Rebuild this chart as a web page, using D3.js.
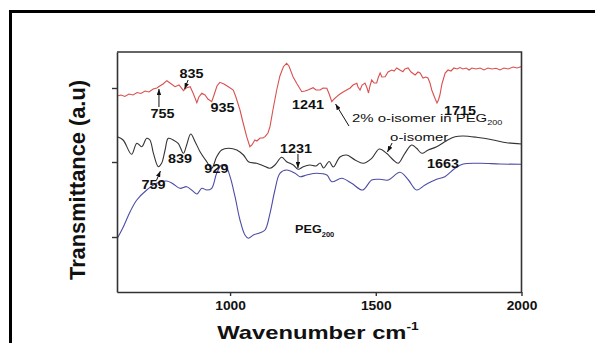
<!DOCTYPE html>
<html><head><meta charset="utf-8">
<script src="https://cdn.jsdelivr.net/npm/d3@7"></script>
<style>
html,body{margin:0;padding:0;background:#fff;}
svg{display:block;font-family:"Liberation Sans",Arial,Helvetica,sans-serif;}
</style></head>
<body>
<script>
// ---------- data (wavenumber cm^-1, transmittance a.u.) ----------
const xTicks = [1000, 1500, 2000];
const yTicks = [55, 130, 204];

const mixWn = [612,626,639,653,667,681,694,708,722,736,749,756,770,783,794,811,825,840,849,863,873,886,893,903,914,924,937,945,955,965,979,994,1011,1020,1034,1044,1057,1068,1075,1085,1092,1103,1113,1120,1130,1137,1147,1160,1171,1183,1194,1202,1216,1230,1246,1257,1267,1285,1295,1309,1319,1332,1340,1349,1357,1366,1377,1388,1400,1412,1422,1435,1439,1446,1453,1463,1470,1475,1480,1486,1494,1503,1508,1515,1521,1532,1542,1555,1563,1572,1583,1593,1600,1611,1621,1635,1645,1652,1662,1672,1679,1686,1692,1703,1710,1715,1720,1727,1738,1748,1758,1768,1779,1789,1799,1810,1820,1830,1844,1858,1871,1885,1899,1913,1926,1940,1954,1971,1985,2000];
const mixT = [196,197,195.5,198,197,199.5,198.5,201,200,203,204,205.5,208,211.3,209,205.3,207,201.3,204,205.3,199,189.3,195,198.7,197,193,190.3,197,206,209.7,208,205.3,202,195,182,170,155.3,145.3,147,152,151,154,154,155.3,159,165.3,182,202,216,225.3,228.7,226,215.3,208,200.3,201,202,204.3,202,202,204,203.7,198,190.3,193,195.3,198,200,202,204,207,208.7,205,202,207,209,204,199,206,212,209,209,214,219,215,215.3,220,222,221,224,222,220.3,223,224,220,217,220,219,214,215,214,209,202,193.7,189,192,197,208,219,222,221,224,223,224.5,223,224,222,224,223,224,222,224,223,223.7,222,224,223,225,224,225.5];

const isoWn = [613,633,662,680,697,714,725,737,754,765,777,788,805,822,840,851,865,880,897,920,937,954,971,994,1023,1046,1063,1091,1114,1137,1154,1177,1194,1217,1234,1251,1274,1295,1309,1321,1340,1354,1377,1400,1429,1457,1486,1512,1537,1560,1577,1600,1623,1640,1658,1680,1709,1743,1772,1800,1846,1903,1949,2000];
const isoT = [155.3,152,137.7,148.7,145.3,153.7,152,138.7,125.3,128.7,142,153.7,152,148.7,138.7,147,158,150.3,140.3,130.3,123.7,135.3,142,143.7,142,137,130.3,128.7,126.3,123.7,127,134.7,130.3,127,122.7,125.3,127,126,129,124,130.5,125,135,137,132,128.7,133.7,143,138.7,132,128.7,138.7,147,143.7,138.7,142,145.3,151.3,155.3,156,154.7,152,149.3,148];

const pegWn = [613,634,657,680,714,748,783,805,828,851,868,886,903,920,937,954,971,986,1000,1017,1034,1051,1063,1080,1103,1120,1137,1154,1171,1194,1223,1240,1263,1297,1332,1349,1383,1417,1455,1486,1514,1543,1583,1612,1640,1669,1709,1737,1772,1800,1858,1926,2000];
const pegT = [53.7,65.3,80.3,92,102,108.7,111,108,103.7,105.3,102,98,103.7,102,103.7,118.7,127,125.3,115.3,95.3,72,57,53.7,57,59.3,62,78.7,102,118.7,122,118.7,115.3,117,118.7,117,110.3,113.7,108.7,102,112,112.7,112,119.7,112,102,107,112.7,115.3,123.7,128,128.7,128,127.7];

// peak labels: text, wavenumber, transmittance of text baseline centre
const peakText = ["755","835","935","1241","1715","839","759","929","1231","1663"];
const peakWn   = [768, 868, 974, 1267, 1789, 828, 737, 953, 1226, 1731];
const peakT    = [174, 214, 180, 183, 177.5, 129.5, 103, 119.5, 139.5, 124];

// arrows: from (wn,T) to (wn,T)
const arrowFromWn = [756, 856, 1408, 1556, 1233, 748];
const arrowFromT  = [185, 212, 166, 149, 138, 112];
const arrowToWn   = [756, 844, 1362, 1540, 1233, 761];
const arrowToT    = [203, 203, 188, 140, 124, 121];

// ---------- layout ----------
const W = 595, H = 343;
const plot = {l:117, r:521.5, t:52, b:292};
const x = d3.scaleLinear().domain([612, 2000]).range([plot.l, plot.r]);
const y = d3.scaleLinear().domain([0, 240]).range([plot.b, plot.t]);

const svg = d3.select("body").append("svg").attr("width", W).attr("height", H);

// outer black frame (top + left)
svg.append("path").attr("d", "M10.5,343V11.5H595").attr("fill","none").attr("stroke","#000").attr("stroke-width",3);

// arrow marker
svg.append("defs").append("marker").attr("id","ah").attr("viewBox","0 0 8 6")
  .attr("refX",8).attr("refY",3).attr("markerWidth",6).attr("markerHeight",4.5)
  .attr("markerUnits","userSpaceOnUse").attr("orient","auto")
  .append("path").attr("d","M0,0L8,3L0,6Z").attr("fill","#111");

// curves
const lineOf = (wn, t, curve) => d3.line().x((d,i)=>x(wn[i])).y((d,i)=>y(t[i])).curve(curve)(t);
svg.append("path").attr("d", lineOf(pegWn, pegT, d3.curveCatmullRom.alpha(0.5)))
  .attr("fill","none").attr("stroke","#4b4ca6").attr("stroke-width",1.1);
svg.append("path").attr("d", lineOf(isoWn, isoT, d3.curveCatmullRom.alpha(0.5)))
  .attr("fill","none").attr("stroke","#333").attr("stroke-width",1.1);
svg.append("path").attr("d", lineOf(mixWn, mixT, d3.curveLinear))
  .attr("fill","none").attr("stroke","#d9504f").attr("stroke-width",1.1);

// axes
const axisColor = "#333";
const gx = svg.append("g").attr("transform",`translate(0,${plot.b})`)
  .call(d3.axisBottom(x).tickValues(xTicks).tickSize(4).tickSizeOuter(0).tickPadding(5.5).tickFormat(d3.format("d")));
const gy = svg.append("g").attr("transform",`translate(${plot.l},0)`)
  .call(d3.axisLeft(y).tickValues(yTicks).tickSize(5).tickSizeOuter(0).tickFormat(""));
[gx, gy].forEach(g => {
  g.select(".domain").attr("stroke", axisColor).attr("stroke-width",1.6);
  g.selectAll(".tick line").attr("stroke", axisColor).attr("stroke-width",1.4);
});
gx.selectAll(".tick text").attr("fill","#111").attr("font-size",12).attr("font-weight","bold")
  .attr("font-family","Liberation Sans, Arial, sans-serif").attr("transform","scale(1.15,1)");
// top and right frame
svg.append("path").attr("d",`M${plot.l},${plot.t}H${plot.r}V${plot.b}`)
  .attr("fill","none").attr("stroke",axisColor).attr("stroke-width",1.6);

// axis titles
const xt = svg.append("text").attr("transform","translate(318,338.5) scale(1.25,1)")
  .attr("text-anchor","middle").attr("font-weight","bold").attr("fill","#111");
xt.append("tspan").attr("font-size",19).text("Wavenumber cm");
xt.append("tspan").attr("font-size",11).attr("dy",-9).text("-1");

svg.append("text").attr("transform","translate(85,180) rotate(-90)")
  .attr("text-anchor","middle").attr("font-weight","bold").attr("font-size",21.5)
  .attr("fill","#111").attr("textLength",200).attr("lengthAdjust","spacingAndGlyphs")
  .text("Transmittance (a.u)");

// peak labels
peakText.forEach((t,i)=>{
  svg.append("text").attr("transform",`translate(${x(peakWn[i])},${y(peakT[i])}) scale(1.2,1)`)
    .attr("text-anchor","middle").attr("font-size",12).attr("font-weight","bold").attr("fill","#111").text(t);
});

// arrows
arrowFromWn.forEach((d,i)=>{
  svg.append("line").attr("x1",x(arrowFromWn[i])).attr("y1",y(arrowFromT[i]))
    .attr("x2",x(arrowToWn[i])).attr("y2",y(arrowToT[i]))
    .attr("stroke","#111").attr("stroke-width",1).attr("marker-end","url(#ah)");
});

// series labels
const l1 = svg.append("text").attr("transform",`translate(${x(1418)},${y(170.5)}) scale(1.3,1)`)
  .attr("font-size",11.5).attr("fill","#111");
l1.append("tspan").text("2% o-isomer in PEG");
l1.append("tspan").attr("font-size",7).attr("dy",3).text("200");

svg.append("text").attr("transform",`translate(${x(1549)},${y(151)}) scale(1.3,1)`)
  .attr("font-size",11.5).attr("fill","#111").text("o-isomer");

const l3 = svg.append("text").attr("transform",`translate(${x(1223)},${y(59.5)}) scale(1.15,1)`)
  .attr("font-size",11).attr("font-weight","bold").attr("fill","#111");
l3.append("tspan").text("PEG");
l3.append("tspan").attr("font-size",6.5).attr("dy",4).text("200");
</script>
</body></html>
